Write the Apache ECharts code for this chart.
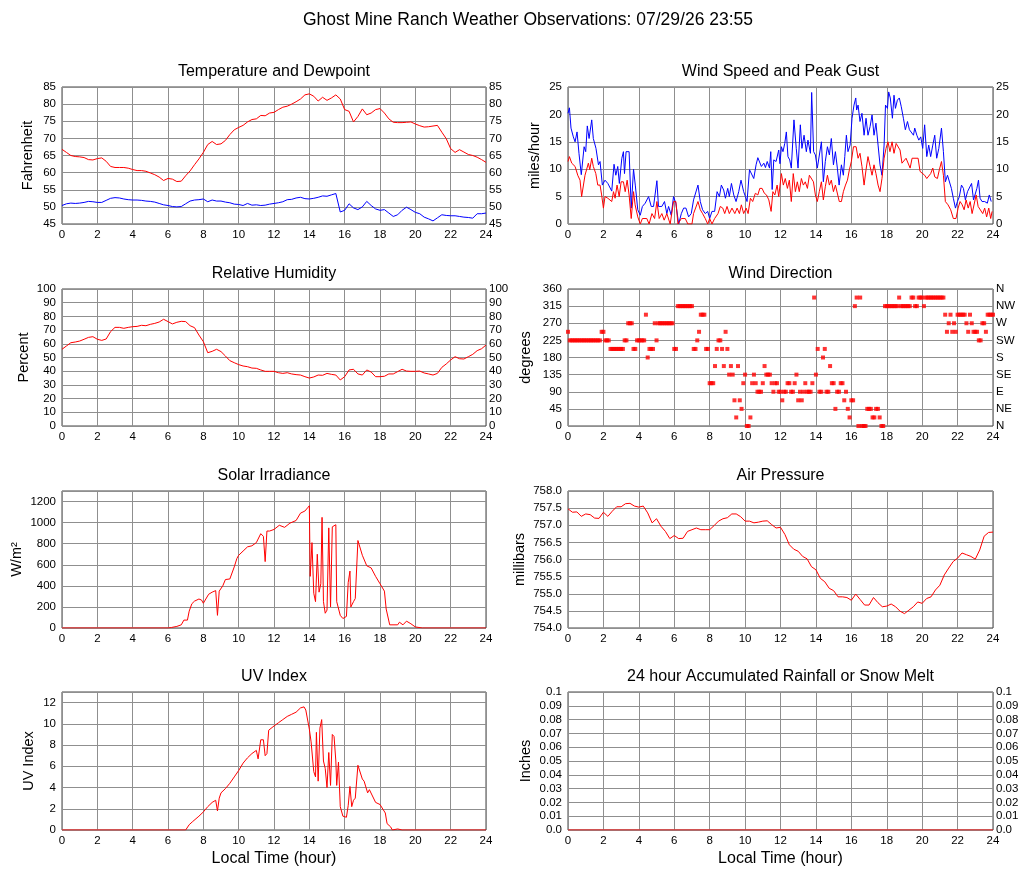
<!DOCTYPE html>
<html>
<head>
<meta charset="utf-8">
<title>Ghost Mine Ranch Weather Observations</title>
<script src="https://cdn.jsdelivr.net/npm/echarts@6/dist/echarts.min.js"></script>
<style>
	html, body { margin: 0; padding: 0; background: #fff; }
	#main { width: 1027px; height: 878px; }
</style>
</head>
<body>
<div id="main"></div>
<script>
// quarter-hour samples, 0 .. 24
var hours = [];
for (var q = 0; q <= 96; q++) hours.push(q / 4);

var temperature = [
	66.8, 65.9, 65.0, 64.7, 64.6, 64.4, 63.8, 63.7, 64.1, 64.3, 63.3, 61.8,
	61.5, 61.5, 61.5, 61.3, 60.9, 60.6, 60.6, 60.4, 59.9, 59.4, 58.7, 57.7,
	58.3, 58.1, 57.4, 57.5, 59.1, 60.5, 62.3, 64.0, 65.9, 68.2, 69.1, 68.2,
	68.4, 69.4, 71.1, 72.5, 73.2, 73.8, 74.8, 75.5, 75.7, 76.7, 76.6, 77.4,
	77.6, 78.4, 79.1, 79.4, 80.0, 80.7, 81.5, 82.7, 83.0, 82.3, 80.9, 82.0,
	81.1, 81.8, 82.7, 81.5, 78.4, 77.9, 74.8, 76.4, 78.6, 76.9, 77.4, 78.4,
	78.7, 77.4, 75.7, 74.7, 74.6, 74.6, 74.7, 74.8, 74.2, 73.7, 73.3, 73.4,
	73.6, 73.8, 71.8, 69.9, 67.0, 65.9, 66.7, 66.0, 65.3, 65.0, 64.5, 63.8,
	63.0
];
var dewpoint = [
	50.4, 50.9, 51.1, 51.0, 51.1, 51.3, 51.6, 51.5, 51.3, 51.3, 51.9, 52.5,
	52.7, 52.6, 52.3, 52.1, 52.0, 52.0, 51.9, 51.7, 51.6, 51.4, 51.0, 50.6,
	50.4, 50.1, 50.0, 50.1, 50.9, 51.7, 52.0, 52.1, 52.3, 51.5, 52.0, 51.7,
	51.7, 51.4, 51.2, 50.8, 50.7, 50.4, 51.0, 50.5, 50.6, 50.4, 50.5, 50.8,
	51.0, 51.2, 51.5, 52.1, 52.2, 52.6, 52.8, 52.4, 52.3, 52.5, 52.8, 53.2,
	53.1, 53.5, 53.9, 48.5, 49.0, 50.9, 49.7, 49.2, 50.0, 51.6, 50.4, 49.4,
	49.0, 49.2, 48.2, 47.2, 47.7, 49.0, 49.9, 49.2, 48.4, 48.0, 47.0, 46.5,
	45.9, 46.8, 47.7, 47.5, 47.4, 47.4, 47.2, 47.0, 46.9, 46.7, 48.0, 48.0,
	48.2
];
var humidity = [
	56.0, 58.4, 60.8, 61.3, 62.0, 63.3, 64.7, 65.2, 63.3, 62.5, 63.5, 68.9,
	72.0, 72.0, 71.3, 72.0, 72.5, 72.7, 73.5, 73.2, 74.2, 74.9, 75.9, 77.9,
	76.2, 74.5, 75.7, 76.4, 76.2, 73.2, 71.8, 66.4, 61.6, 53.5, 54.5, 56.0,
	54.3, 51.1, 47.7, 46.2, 44.8, 43.8, 43.3, 42.3, 42.1, 40.9, 39.9, 39.9,
	39.9, 38.9, 38.4, 38.9, 38.0, 37.5, 37.2, 36.0, 35.0, 35.8, 37.2, 37.0,
	38.4, 37.7, 37.2, 33.6, 36.0, 40.9, 41.4, 38.0, 37.2, 40.9, 39.4, 36.0,
	36.0, 36.3, 38.0, 38.0, 39.7, 41.4, 40.1, 39.9, 39.9, 40.1, 38.7, 38.0,
	37.2, 38.4, 42.8, 45.3, 48.2, 50.6, 49.1, 48.9, 50.6, 52.3, 55.0, 56.4,
	59.1
];
var pressure = [
	757.48, 757.38, 757.39, 757.26, 757.33, 757.31, 757.21, 757.20, 757.38, 757.26, 757.41, 757.54,
	757.54, 757.63, 757.64, 757.56, 757.53, 757.56, 757.36, 757.07, 757.19, 756.97, 756.82, 756.61,
	756.70, 756.61, 756.62, 756.82, 756.87, 756.92, 756.87, 756.87, 756.87, 756.99, 757.12, 757.19,
	757.22, 757.33, 757.33, 757.25, 757.12, 757.12, 757.07, 757.09, 757.12, 757.13, 757.02, 756.92,
	756.94, 756.73, 756.43, 756.30, 756.24, 756.09, 756.02, 755.79, 755.70, 755.45, 755.35, 755.16,
	755.09, 754.91, 754.91, 754.89, 754.81, 754.99, 754.83, 754.67, 754.67, 754.89, 754.74, 754.62,
	754.64, 754.70, 754.62, 754.49, 754.42, 754.52, 754.62, 754.76, 754.72, 754.86, 754.91, 755.11,
	755.25, 755.55, 755.75, 755.94, 756.04, 756.19, 756.14, 756.09, 756.01, 756.28, 756.68, 756.79,
	756.80
];

// wind readings as [hour, mph], taken at the turning points of the trace
var gustReadings = [
	[0, 20.2], [0.08, 21.2], [0.17, 17.5], [0.3, 15.9], [0.4, 15], [0.51, 16.8], [0.62, 12.9], [0.75, 9],
	[0.91, 14.1], [1.0, 13.2], [1.09, 17.9], [1.19, 15.6], [1.34, 19], [1.43, 15.6], [1.58, 13.8], [1.72, 10.8],
	[1.81, 11.4], [1.94, 7.1], [2.09, 8], [2.25, 7.4], [2.47, 6], [2.6, 10.9], [2.7, 8.9], [2.81, 10.5],
	[2.9, 7.4], [3.04, 12], [3.13, 13.2], [3.19, 9.2], [3.28, 13.2], [3.45, 13.2], [3.57, 2.9], [3.7, 10],
	[3.8, 7.1], [3.94, 2.6], [4.08, 1.6], [4.2, 3.2], [4.36, 3.8], [4.55, 5], [4.7, 3.2], [4.83, 3.2],
	[5.02, 7.9], [5.11, 3.2], [5.3, 3.2], [5.45, 4.1], [5.58, 1.9], [5.68, 3.2], [5.83, 1.6], [5.96, 5],
	[6.09, 3.8], [6.25, 0], [6.4, 1.9], [6.53, 2.9], [6.66, 2.9], [6.81, 1.3], [6.96, 1.9], [7.09, 4.4],
	[7.34, 7.1], [7.47, 4.1], [7.6, 2.6], [7.75, 1.9], [7.89, 2.3], [8.0, 1], [8.13, 2.3], [8.28, 2.3],
	[8.42, 5.9], [8.55, 5], [8.66, 7.1], [8.79, 6.2], [8.89, 4.7], [9.02, 6.5], [9.11, 5], [9.23, 7.4],
	[9.36, 5.3], [9.49, 4.1], [9.64, 5.9], [9.77, 8], [9.92, 5.9], [10.02, 5], [10.11, 4.1], [10.25, 9.9],
	[10.36, 10.2], [10.49, 8.3], [10.62, 10.8], [10.72, 12.1], [10.83, 12], [10.92, 10.5], [11.06, 11.1], [11.15, 10.3],
	[11.25, 11.4], [11.38, 10.2], [11.45, 13.2], [11.53, 6.3], [11.62, 11.7], [11.75, 11.4], [11.9, 13.5], [11.97, 11],
	[12.05, 14.1], [12.14, 13.2], [12.24, 14.7], [12.33, 16.8], [12.42, 12.3], [12.52, 11.7], [12.61, 10.2], [12.76, 19],
	[12.89, 13.8], [12.99, 10.2], [13.12, 18.1], [13.21, 13.8], [13.33, 16.2], [13.46, 13.2], [13.55, 15.3], [13.69, 12.9],
	[13.76, 24], [13.87, 13.2], [13.97, 12.6], [14.08, 10.2], [14.19, 10.2], [14.31, 15], [14.42, 7.7], [14.53, 11.4],
	[14.65, 14.1], [14.76, 12.6], [14.87, 15.6], [14.99, 10.8], [15.1, 13.2], [15.21, 10.2], [15.31, 7.1], [15.44, 10.8],
	[15.55, 8.9], [15.63, 12.3], [15.72, 16.2], [15.81, 13.2], [15.93, 14.4], [16.04, 19.3], [16.15, 21.7], [16.25, 23],
	[16.3, 20.8], [16.38, 21.7], [16.49, 18.7], [16.6, 20.2], [16.72, 16.2], [16.83, 19.3], [16.94, 16.2], [17.06, 17.8],
	[17.17, 19.9], [17.28, 16.2], [17.39, 18.4], [17.51, 14.4], [17.62, 10.8], [17.73, 8.9], [17.85, 14.4], [17.93, 21.7],
	[18.04, 21.1], [18.11, 24.1], [18.2, 23], [18.32, 19.3], [18.41, 23.5], [18.49, 21.1], [18.6, 22.6], [18.71, 23],
	[18.82, 21.4], [18.94, 19.3], [19.05, 17.2], [19.17, 18.7], [19.28, 17.2], [19.39, 17.2], [19.51, 16.2], [19.58, 17.5],
	[19.7, 16.2], [19.81, 15.3], [19.92, 15.9], [20.03, 13.8], [20.14, 18.1], [20.26, 12.3], [20.37, 14.4], [20.48, 12.3],
	[20.6, 14.4], [20.71, 16.2], [20.82, 12], [20.94, 13.8], [21.09, 17.5], [21.2, 13.2], [21.31, 7.7], [21.43, 8.9],
	[21.54, 9.2], [21.65, 6.5], [21.76, 4.7], [21.88, 2.9], [21.99, 4.1], [22.1, 5], [22.22, 7.1], [22.33, 6.5],
	[22.44, 4.4], [22.56, 5.9], [22.67, 5.9], [22.79, 7.4], [22.9, 4.4], [22.97, 4.1], [23.09, 6.5], [23.18, 8],
	[23.27, 4.7], [23.38, 4.1], [23.53, 4.1], [23.68, 3.8], [23.79, 5.3], [23.9, 4.1]
];
var speedReadings = [
	[0, 11.4], [0.08, 12.3], [0.21, 11.1], [0.4, 10.5], [0.55, 8.9], [0.68, 8], [0.77, 5], [0.87, 5],
	[0.96, 8.9], [1.06, 9.1], [1.15, 11.1], [1.23, 9.9], [1.34, 12], [1.43, 10.5], [1.57, 9.2], [1.68, 7.1],
	[1.81, 7.1], [1.9, 5.3], [2.0, 2.9], [2.09, 5], [2.25, 4.7], [2.47, 4.1], [2.57, 5.9], [2.66, 4.7],
	[2.77, 7.1], [2.89, 5], [3.0, 7.7], [3.13, 7.7], [3.23, 5.9], [3.34, 8], [3.45, 5.3], [3.57, 1],
	[3.7, 5.9], [3.79, 3.5], [3.94, 1.3], [4.08, 0], [4.2, 1], [4.45, 1], [4.58, 0], [4.74, 1.9],
	[4.89, 1], [5.02, 4.1], [5.15, 1], [5.3, 1.9], [5.43, 0.7], [5.58, 1.9], [5.77, 0], [5.96, 4.1],
	[6.09, 4.1], [6.21, 0], [6.4, 1], [6.62, 1], [6.77, 0], [7.0, 0], [7.09, 1.9], [7.34, 4.1],
	[7.47, 2.6], [7.6, 1.9], [7.75, 1], [7.89, 0], [8.0, 1], [8.13, 0], [8.28, 1], [8.47, 1.9],
	[8.6, 3.2], [8.74, 2.9], [8.85, 1.9], [8.98, 3.2], [9.11, 1.9], [9.26, 2.9], [9.42, 1.9], [9.55, 2.9],
	[9.68, 1.9], [9.79, 3.5], [9.92, 1.9], [10.06, 2.9], [10.17, 1.9], [10.3, 4.7], [10.43, 4.1], [10.58, 5.6],
	[10.72, 5.3], [10.83, 6.5], [10.96, 6.5], [11.09, 5.6], [11.21, 5.3], [11.34, 4.4], [11.47, 2.3], [11.57, 5.9],
	[11.68, 5.3], [11.81, 7.1], [11.9, 5], [12.05, 9.2], [12.16, 7.1], [12.27, 8.3], [12.39, 6.5], [12.5, 8],
	[12.61, 4.1], [12.72, 9.2], [12.84, 5.9], [12.95, 7.7], [13.06, 5.9], [13.18, 8.3], [13.29, 7.1], [13.4, 7.7],
	[13.52, 6.5], [13.63, 8.9], [13.74, 9.2], [13.86, 7.7], [13.97, 5.3], [14.08, 4.1], [14.19, 5.9], [14.31, 7.7],
	[14.42, 4.4], [14.53, 6.8], [14.65, 8.9], [14.76, 7.1], [14.87, 8], [14.99, 5.9], [15.1, 7.1], [15.21, 7.1],
	[15.32, 4.1], [15.44, 4.1], [15.55, 5.9], [15.67, 7.1], [15.78, 8], [15.89, 9.9], [16.0, 11.4], [16.12, 14.1],
	[16.27, 14.1], [16.38, 12], [16.49, 12.9], [16.6, 10.5], [16.72, 7.1], [16.83, 9.9], [16.94, 12.3], [17.06, 10.5],
	[17.17, 8.9], [17.28, 10.8], [17.39, 9.2], [17.51, 7.1], [17.62, 5.9], [17.73, 8.3], [17.85, 12], [17.96, 13.8],
	[18.07, 15], [18.18, 13.2], [18.3, 15], [18.41, 12.9], [18.53, 14.7], [18.64, 15], [18.75, 13.5], [18.86, 11.1],
	[18.97, 11.1], [19.09, 12], [19.2, 12], [19.32, 10.2], [19.43, 12], [19.77, 12], [19.88, 9.6], [20.14, 8.9],
	[20.26, 8.3], [20.37, 8.6], [20.48, 9.2], [20.6, 10.2], [20.71, 8.6], [20.86, 8.3], [20.97, 9.9], [21.09, 11.4],
	[21.2, 8.9], [21.31, 4.1], [21.46, 3.5], [21.61, 2.6], [21.76, 1], [21.91, 1], [22.03, 2.9], [22.14, 4.1],
	[22.26, 3.5], [22.37, 2.6], [22.48, 4.4], [22.6, 2.9], [22.71, 4.1], [22.82, 1.9], [22.93, 1.9], [23.05, 5.3],
	[23.16, 3.2], [23.27, 3.2], [23.42, 1.9], [23.53, 2.9], [23.64, 1.3], [23.76, 2.9], [23.87, 1], [23.95, 2.3]
];

// wind direction, one reading every 0.1 hour (one row per hour)
var dirHours = [];
for (var d = 0; d <= 240; d++) dirHours.push(d / 10);
var direction = [
	247.5, 225, 225, 225, 225, 225, 225, 225, 225, 225,
	225, 225, 225, 225, 225, 225, 225, 225, 225, 247.5,
	247.5, 225, 225, 225, 202.5, 202.5, 202.5, 202.5, 202.5, 202.5,
	202.5, 202.5, 225, 225, 270, 270, 270, 202.5, 202.5, 225,
	225, 225, 225, 225, 292.5, 180, 202.5, 202.5, 202.5, 270,
	225, 270, 270, 270, 270, 270, 270, 270, 270, 270,
	202.5, 202.5, 315, 315, 315, 315, 315, 315, 315, 315,
	315, 202.5, 202.5, 225, 247.5, 292.5, 292.5, 292.5, 202.5, 202.5,
	112.5, 112.5, 112.5, 157.5, 202.5, 225, 225, 202.5, 157.5, 247.5,
	202.5, 135, 157.5, 135, 67.5, 22.5, 157.5, 67.5, 45, 112.5,
	135, 0, 0, 22.5, 112.5, 135, 112.5, 90, 90, 90,
	112.5, 157.5, 135, 135, 135, 112.5, 90, 112.5, 112.5, 90,
	90, 67.5, 90, 90, 112.5, 112.5, 90, 90, 112.5, 135,
	67.5, 90, 67.5, 90, 112.5, 90, 90, 90, 112.5, 337.5,
	135, 202.5, 90, 90, 180, 202.5, 90, 90, 157.5, 112.5,
	112.5, 45, 90, 90, 112.5, 112.5, 67.5, 90, 45, 22.5,
	67.5, 67.5, 315, 337.5, 0, 337.5, 0, 0, 0, 45,
	45, 45, 22.5, 22.5, 45, 45, 22.5, 0, 0, 315,
	315, 315, 315, 315, 315, 315, 315, 337.5, 315, 315,
	315, 315, 315, 315, 337.5, 337.5, 315, 315, 337.5, 337.5,
	337.5, 315, 337.5, 337.5, 337.5, 337.5, 337.5, 337.5, 337.5, 337.5,
	337.5, 337.5, 337.5, 292.5, 247.5, 270, 292.5, 247.5, 270, 247.5,
	292.5, 292.5, 292.5, 292.5, 292.5, 270, 247.5, 292.5, 270, 247.5,
	247.5, 247.5, 225, 225, 270, 270, 247.5, 292.5, 292.5, 292.5,
	292.5
];
var compass = ['N', 'NE', 'E', 'SE', 'S', 'SW', 'W', 'NW', 'N'];

var solarHours = [
	0, 6.0, 6.2, 6.5, 6.75, 6.9, 7.0, 7.1, 7.2, 7.35,
	7.5, 7.6, 7.75, 7.9, 8.0, 8.1, 8.3, 8.5, 8.7, 8.8,
	8.9, 9.0, 9.1, 9.25, 9.5, 9.75, 9.9, 10.0, 10.25, 10.5,
	10.75, 11.0, 11.25, 11.4, 11.5, 11.6, 11.75, 12.0, 12.3, 12.6,
	12.9, 13.25, 13.5, 13.75, 13.9, 14.0, 14.05, 14.15, 14.25, 14.35,
	14.45, 14.55, 14.65, 14.72, 14.8, 14.9, 15.0, 15.1, 15.2, 15.3,
	15.4, 15.5, 15.55, 15.75, 15.9, 16.1, 16.2, 16.3, 16.35, 16.5,
	16.6, 16.75, 17.0, 17.25, 17.5, 17.75, 18.0, 18.25, 18.35, 18.55,
	19.0, 19.1, 19.3, 19.5, 19.75, 20.0, 20.4, 24
];
var solar = [
	0, 0, 5, 15, 30, 75, 60, 75, 160, 230,
	255, 240, 275, 265, 235, 250, 320, 340, 355, 120,
	350, 360, 400, 460, 465, 580, 660, 690, 730, 770,
	780, 810, 895, 870, 630, 920, 920, 935, 975, 955,
	995, 1020, 1090, 1110, 1140, 1160, 490, 810, 330, 250,
	700, 340, 420, 1050, 250, 140, 170, 950, 200, 960,
	960, 980, 250, 120, 90, 110, 430, 540, 200, 250,
	280, 830, 690, 590, 570, 490, 420, 350, 180, 30,
	30, 55, 30, 65, 40, 10, 0, 0
];

var uvHours = [
	0, 7.0, 7.2, 7.4, 7.75, 8.0, 8.25, 8.5, 8.7, 8.8,
	8.9, 9.0, 9.25, 9.5, 9.75, 10.0, 10.25, 10.5, 10.75, 11.0,
	11.1, 11.25, 11.4, 11.5, 11.6, 11.7, 12.0, 12.25, 12.5, 12.75,
	13.0, 13.25, 13.5, 13.7, 13.8, 13.9, 14.0, 14.1, 14.2, 14.25,
	14.35, 14.4, 14.5, 14.6, 14.7, 14.8, 14.9, 15.0, 15.1, 15.2,
	15.3, 15.4, 15.5, 15.55, 15.65, 15.75, 15.9, 16.1, 16.2, 16.3,
	16.4, 16.5, 16.6, 16.75, 17.0, 17.1, 17.3, 17.4, 17.75, 18.0,
	18.3, 18.4, 18.6, 18.7, 19.0, 19.1, 19.25, 24
];
var uv = [
	0, 0, 0.5, 0.8, 1.3, 1.7, 2.2, 2.6, 2.8, 1.8,
	3.0, 3.5, 3.9, 4.4, 5.0, 5.6, 6.3, 6.8, 7.2, 7.5,
	6.7, 8.5, 8.5, 7.0, 7.2, 9.4, 9.8, 10.1, 10.4, 10.7,
	10.9, 11.1, 11.5, 11.6, 11.3, 11.4, 9.5, 8.3, 8.2, 5.5,
	5.0, 9.2, 4.6, 9.6, 10.4, 6.5, 5.8, 4.0, 7.3, 4.2,
	9.0, 8.8, 6.5, 4.2, 6.4, 2.2, 1.3, 1.2, 2.3, 4.1,
	2.2, 2.8, 3.0, 6.1, 4.8, 4.6, 3.5, 3.8, 2.6, 2.4,
	1.6, 0.6, 0.3, 0, 0.1, 0.2, 0, 0
];

var rainHours = [0, 24];
var rain = [0, 0];

var FONT = '"Liberation Sans", Arial, sans-serif';
var GRID_LINE = '#8f8f8f';
var RED = '#ff0000';
var BLUE = '#0000ff';

function pairs(xs, ys) {
	var arr = [];
	for (var i = 0; i < ys.length; i++) arr.push([xs[i], ys[i]]);
	return arr;
}

var panels = [
	{ title: 'Temperature and Dewpoint', left: 62, top: 87, h: 137, min: 45, max: 85, step: 5, name: 'Fahrenheit', gap: 27, right: true },
	{ title: 'Wind Speed and Peak Gust', left: 568, top: 87, h: 137, min: 0, max: 25, step: 5, name: 'miles/hour', gap: 26, right: true },
	{ title: 'Relative Humidity', left: 62, top: 289, h: 137, min: 0, max: 100, step: 10, name: 'Percent', gap: 31, right: true },
	{ title: 'Wind Direction', left: 568, top: 289, h: 137, min: 0, max: 360, step: 45, name: 'degrees', gap: 35, right: true,
		rightFmt: function(v) { return compass[Math.round(v / 45)]; } },
	{ title: 'Solar Irradiance', left: 62, top: 491, h: 137, min: 0, max: 1300, step: 200, name: 'W/m²', gap: 38,
		fmt: function(v) { return v % 200 === 0 ? String(v) : ''; } },
	{ title: 'Air Pressure', left: 568, top: 491, h: 137, min: 754, max: 758, step: 0.5, name: 'millibars', gap: 41,
		fmt: function(v) { return v.toFixed(1); } },
	{ title: 'UV Index', left: 62, top: 692, h: 138, min: 0, max: 13, step: 2, name: 'UV Index', gap: 26, bottomName: true,
		fmt: function(v) { return v % 2 === 0 ? String(v) : ''; } },
	{ title: '24 hour Accumulated Rainfall or Snow Melt', left: 568, top: 692, h: 138, min: 0, max: 0.1, step: 0.01, name: 'Inches', gap: 35, right: true, bottomName: true,
		fmt: function(v) { return v === 0 ? '0.0' : String(+v.toFixed(2)); } }
];

var option = {
	animation: false,
	backgroundColor: '#fff',
	textStyle: { fontFamily: FONT },
	grid: [], xAxis: [], yAxis: [], series: [],
	graphic: [{
		type: 'text', x: 528, y: 20,
		style: { text: 'Ghost Mine Ranch Weather Observations: 07/29/26 23:55', fill: '#000',
			font: '17.5px ' + FONT, textAlign: 'center', textVerticalAlign: 'middle', align: 'center', verticalAlign: 'middle' }
	}]
};

var leftAxisIdx = [];
panels.forEach(function(p, i) {
	var w = p.left < 300 ? 424 : 425;
	option.grid.push({ left: p.left, top: p.top, width: w, height: p.h, show: true,
		borderColor: '#444', borderWidth: 1, backgroundColor: '#fff' });
	option.graphic.push({
		type: 'text', x: p.left + w / 2, y: p.top - 15,
		style: { text: p.title, fill: '#000', font: '16px ' + FONT,
			textAlign: 'center', textVerticalAlign: 'middle', align: 'center', verticalAlign: 'middle' }
	});
	option.xAxis.push({
		type: 'value', gridIndex: i, min: 0, max: 24, interval: 2,
		axisLine: { show: false }, axisTick: { show: false },
		axisLabel: { color: '#000', fontSize: 11.5, fontFamily: FONT, margin: 5 },
		splitLine: { show: true, lineStyle: { color: GRID_LINE, width: 1 } },
		name: p.bottomName ? 'Local Time (hour)' : '',
		nameLocation: 'middle', nameGap: 21,
		nameTextStyle: { color: '#000', fontSize: 16, fontFamily: FONT }
	});
	leftAxisIdx.push(option.yAxis.length);
	option.yAxis.push({
		type: 'value', gridIndex: i, position: 'left', min: p.min, max: p.max, interval: p.step,
		axisLine: { show: false }, axisTick: { show: false },
		axisLabel: { color: '#000', fontSize: 11.5, fontFamily: FONT, margin: 6, formatter: p.fmt },
		splitLine: { show: true, lineStyle: { color: GRID_LINE, width: 1 } },
		name: p.name, nameLocation: 'middle', nameRotate: 90, nameGap: p.gap,
		nameTextStyle: { color: '#000', fontSize: 14.5, fontFamily: FONT }
	});
	if (p.right) {
		option.yAxis.push({
			type: 'value', gridIndex: i, position: 'right', min: p.min, max: p.max, interval: p.step,
			axisLine: { show: false }, axisTick: { show: false }, splitLine: { show: false },
			axisLabel: { color: '#000', fontSize: 11.5, fontFamily: FONT, margin: 3, formatter: p.rightFmt || p.fmt }
		});
	}
});

function line(i, data, color) {
	option.series.push({
		type: 'line', xAxisIndex: i, yAxisIndex: leftAxisIdx[i], data: data,
		showSymbol: false, symbol: 'none', lineStyle: { color: color, width: 1 }, itemStyle: { color: color },
		silent: true, z: 3
	});
}

line(0, pairs(hours, temperature), RED);
line(0, pairs(hours, dewpoint), BLUE);
line(1, gustReadings, BLUE);
line(1, speedReadings, RED);
line(2, pairs(hours, humidity), RED);
option.series.push({
	type: 'scatter', xAxisIndex: 3, yAxisIndex: leftAxisIdx[3], data: pairs(dirHours, direction),
	symbol: 'rect', symbolSize: 4, itemStyle: { color: RED }, silent: true, z: 3
});
line(4, pairs(solarHours, solar), RED);
line(5, pairs(hours, pressure), RED);
line(6, pairs(uvHours, uv), RED);
line(7, pairs(rainHours, rain), RED);

var myChart = echarts.init(document.getElementById('main'), null, { renderer: 'canvas' });
myChart.setOption(option);
</script>
</body>
</html>
